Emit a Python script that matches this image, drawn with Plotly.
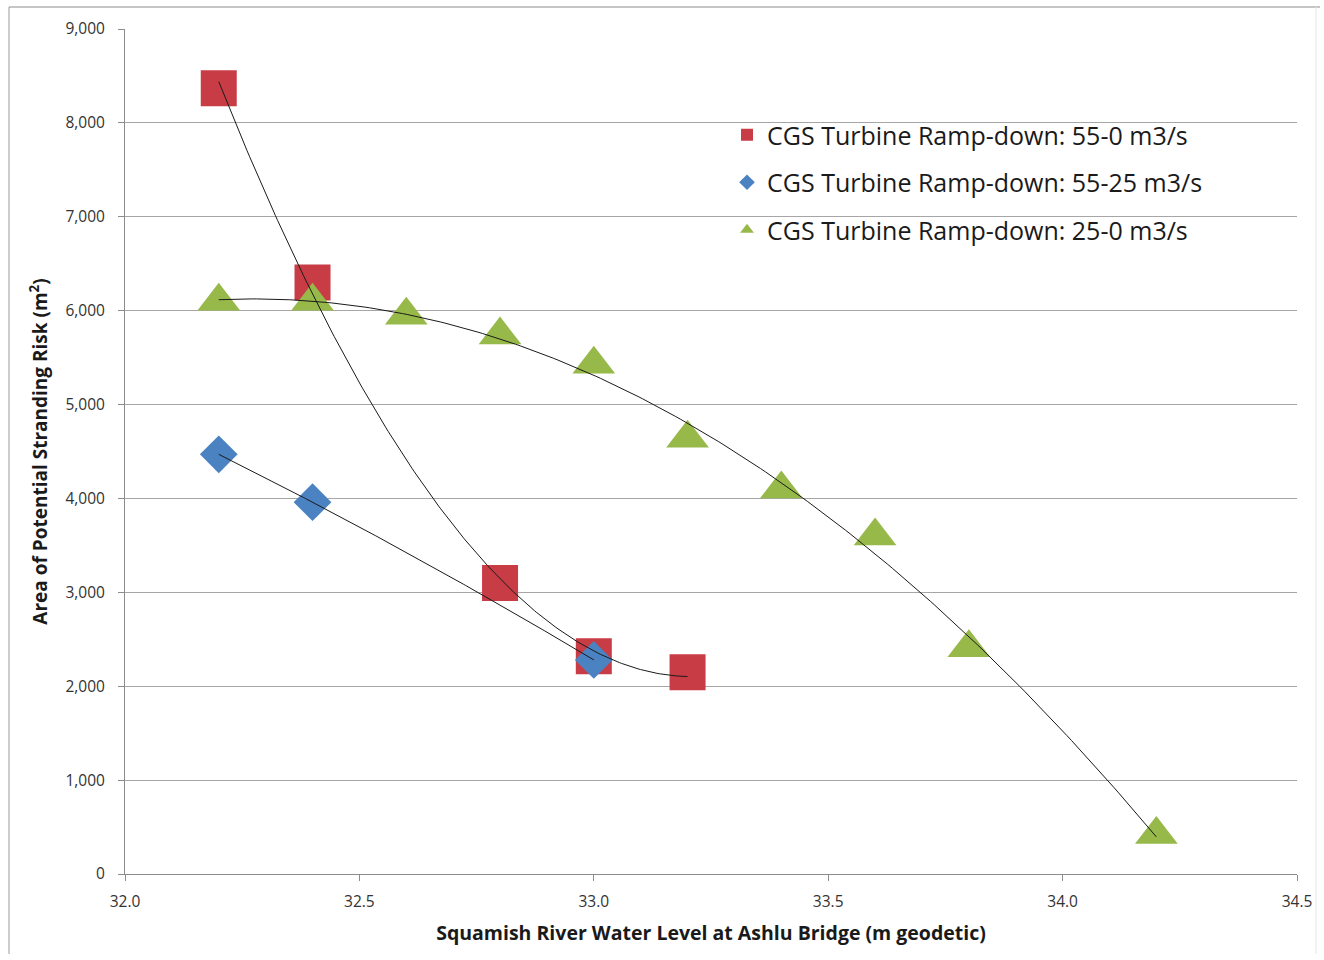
import numpy as np
import plotly.graph_objects as go

# Water level at Ashlu Bridge (m geodetic) and stranding area (m^2)
red_x = [32.2, 32.4, 32.8, 33.0, 33.2]
red_y = [8370, 6300, 3100, 2320, 2150]

blue_x = [32.2, 32.4, 33.0]
blue_y = [4470, 3960, 2280]

green_x = [32.2, 32.4, 32.6, 32.8, 33.0, 33.2, 33.4, 33.6, 33.8, 34.2]
green_y = [6100, 6100, 5950, 5740, 5430, 4640, 4100, 3600, 2410, 420]

series_names = [
    "CGS Turbine Ramp-down: 55-0 m3/s",
    "CGS Turbine Ramp-down: 55-25 m3/s",
    "CGS Turbine Ramp-down: 25-0 m3/s",
]

x_ticks = [32.0, 32.5, 33.0, 33.5, 34.0, 34.5]
y_ticks = [0, 1000, 2000, 3000, 4000, 5000, 6000, 7000, 8000, 9000]

RED = "#C83C46"
BLUE = "#4A82C2"
GREEN = "#97B94A"
FONT = "Open Sans"

W, H = 1324, 960
L, R, T, B = 125, 27, 29, 86

fig = go.Figure()

series = [
    (red_x, red_y, series_names[0], "square", 36, RED),
    (blue_x, blue_y, series_names[1], "diamond", 29, BLUE),
    (green_x, green_y, series_names[2], "triangle-up", 37, GREEN),
]

for i, (xs, ys, name, sym, size, col) in enumerate(series):
    fig.add_trace(go.Scatter(
        x=xs, y=ys, mode="markers", name=name,
        legendgroup=f"g{i}",
        marker=dict(symbol=sym, size=size, color=col, line=dict(width=0)),
    ))

# Second-order polynomial trendlines for each series
for xs, ys, name, *_ in series:
    coef = np.polyfit(xs, ys, 2)
    xx = np.linspace(min(xs), max(xs), 200)
    fig.add_trace(go.Scatter(
        x=xx, y=np.polyval(coef, xx), mode="lines",
        line=dict(color="#1a1a1a", width=1),
        showlegend=False, hoverinfo="skip",
    ))

pw = W - L - R
ph = H - T - B

def px_x(p):
    return (p - L) / pw

def px_y(p):
    return (H - B - p) / ph

# outer chart border
fig.add_shape(type="line", xref="paper", yref="paper",
              x0=px_x(9), x1=px_x(1320), y0=px_y(7), y1=px_y(7),
              line=dict(color="#8c8c8c", width=1))
fig.add_shape(type="line", xref="paper", yref="paper",
              x0=px_x(9), x1=px_x(9), y0=px_y(7), y1=px_y(954),
              line=dict(color="#9a9a9a", width=1))
fig.add_shape(type="line", xref="paper", yref="paper",
              x0=px_x(1316), x1=px_x(1316), y0=px_y(7), y1=px_y(954),
              line=dict(color="#e6e6e6", width=1))

fig.update_layout(
    width=W, height=H,
    margin=dict(l=L, r=R, t=T, b=B),
    paper_bgcolor="white", plot_bgcolor="white",
    font=dict(family=FONT, color="#262626"),
    showlegend=True,
    legend=dict(
        x=px_x(727), y=px_y(112), xanchor="left", yanchor="top",
        font=dict(family=FONT, size=25, color="#1a1a1a"),
        bgcolor="rgba(255,255,255,0)", borderwidth=0,
        traceorder="grouped", tracegroupgap=12,
        itemsizing="constant",
    ),
    xaxis=dict(
        range=[32.0, 34.5], tickvals=x_ticks,
        ticktext=[f"{v:.1f}" for v in x_ticks],
        showgrid=False, zeroline=False,
        showline=True, linecolor="#8c8c8c", linewidth=1,
        ticks="outside", ticklen=6, tickcolor="#8c8c8c",
        tickfont=dict(family=FONT, size=15.5, color="#333333"),
        ticklabelstandoff=7,
        title=dict(text="<b>Squamish River Water Level at Ashlu Bridge (m geodetic)</b>",
                   font=dict(family=FONT, size=19.5, color="#1a1a1a"), standoff=15),
    ),
    yaxis=dict(
        range=[0, 9000], tickvals=y_ticks,
        ticktext=[f"{v:,}" for v in y_ticks],
        showgrid=True, gridcolor="#a6a6a6", gridwidth=1,
        zeroline=False,
        showline=True, linecolor="#8c8c8c", linewidth=1,
        ticks="outside", ticklen=6, tickcolor="#8c8c8c",
        tickfont=dict(family=FONT, size=15.5, color="#333333"),
        ticklabelstandoff=10,
        title=dict(text="<b>Area of Potential Stranding Risk (m<sup>2</sup>)</b>",
                   font=dict(family=FONT, size=19, color="#1a1a1a"), standoff=12),
    ),
)

fig.write_html("out.html")
